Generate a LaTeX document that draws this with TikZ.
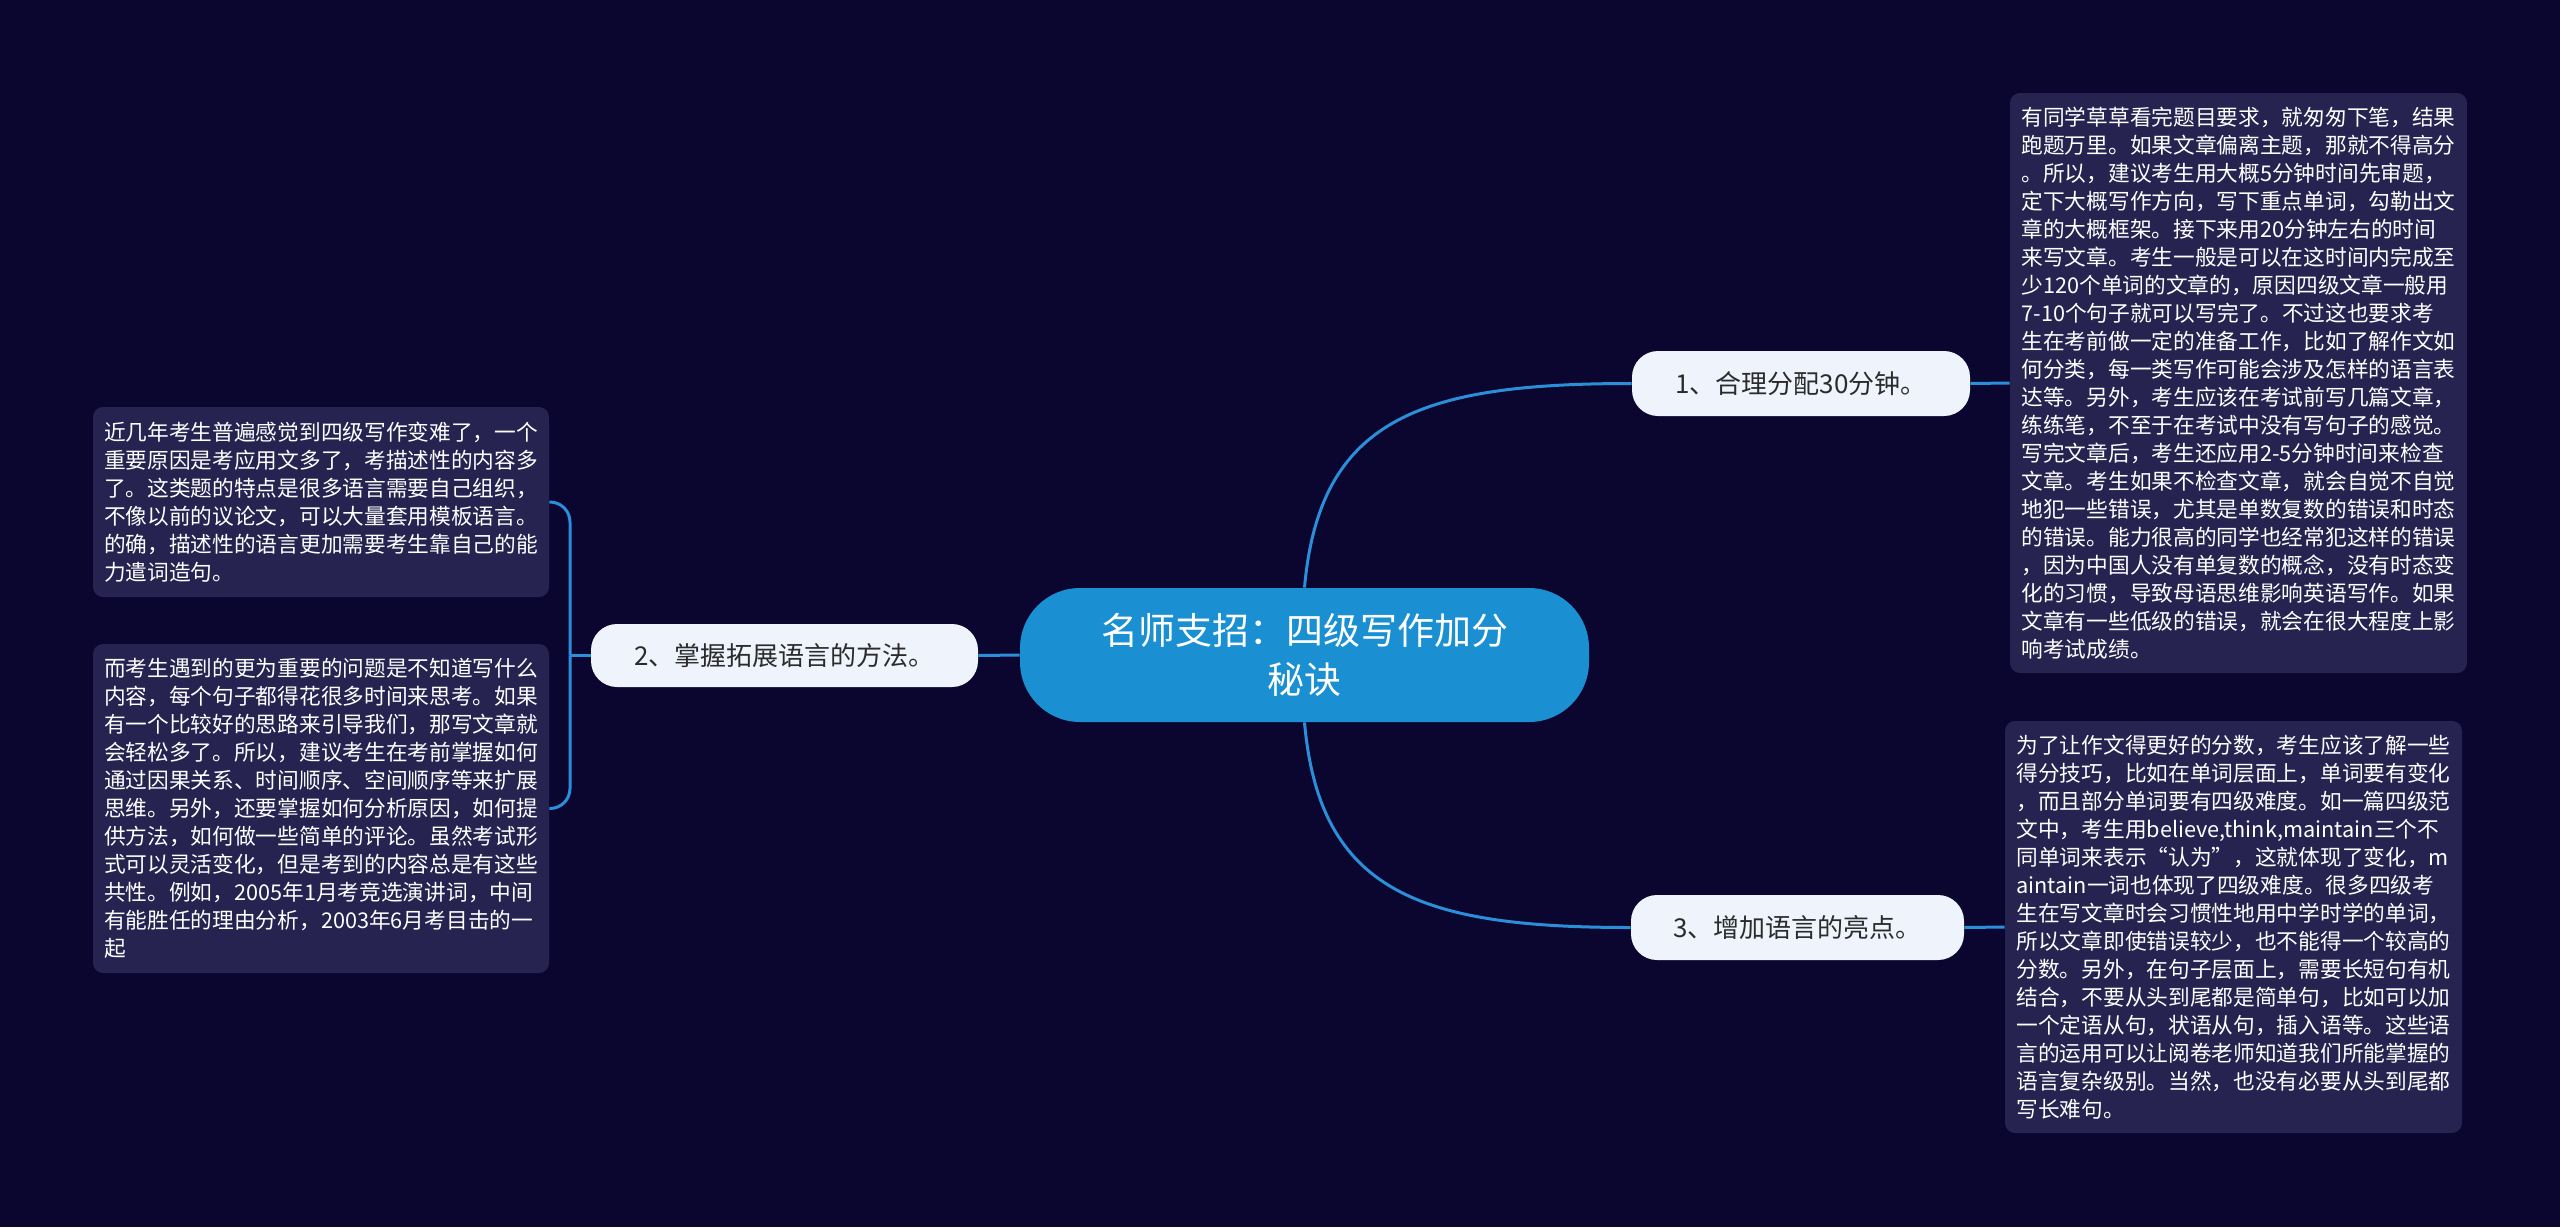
\documentclass[tikz,border=0pt]{standalone}
\usepackage{fontspec}
\setmainfont{Noto Sans CJK SC}
\definecolor{bgc}{HTML}{0A0630}
\definecolor{boxc}{HTML}{262351}
\definecolor{linec}{HTML}{2A8FD8}
\definecolor{rootc}{HTML}{1A90D2}
\definecolor{subc}{HTML}{EEF3FC}
\definecolor{subtext}{HTML}{2B2B2B}
\tikzset{
  rootnode/.style={fill=rootc, text=white, rounded corners=30pt, inner sep=0pt,
    minimum width=284.5pt, minimum height=67pt, align=center,
    font=\fontsize{18.5}{24.5}\selectfont},
  subnode/.style={fill=subc, text=subtext, rounded corners=13pt, inner sep=0pt,
    minimum height=32.5pt, font=\fontsize{13}{16}\selectfont},
  leafbox/.style={fill=boxc, text=white, rounded corners=5pt, inner sep=0pt,
    minimum width=228.5pt, align=left, font=\fontsize{10.85}{14}\selectfont},
  conn/.style={draw=linec, line width=1.5pt}
}
\begin{document}
\begin{tikzpicture}[x=0.5pt,y=-0.5pt]
\fill[bgc] (0,0) rectangle (2560,1227);
\useasboundingbox (0,0) rectangle (2560,1227);

\node[rootnode] (c) at (1304.5,655) {名师支招：四级写作加分\\秘诀};
\node[subnode, minimum width=169pt] (n1) at (1801,383.5) {1、合理分配30分钟。};
\node[subnode, minimum width=193.5pt, minimum height=31.5pt] (n2) at (784.5,655.5) {2、掌握拓展语言的方法。};
\node[subnode, minimum width=166.5pt] (n3) at (1797.5,927.5) {3、增加语言的亮点。};

\node[leafbox, minimum height=290pt] (rt) at (2238.5,383) {有同学草草看完题目要求，就匆匆下笔，结果\\
跑题万里。如果文章偏离主题，那就不得高分\\
。所以，建议考生用大概5分钟时间先审题，\\
定下大概写作方向，写下重点单词，勾勒出文\\
章的大概框架。接下来用20分钟左右的时间\\
来写文章。考生一般是可以在这时间内完成至\\
少120个单词的文章的，原因四级文章一般用\\
7-10个句子就可以写完了。不过这也要求考\\
生在考前做一定的准备工作，比如了解作文如\\
何分类，每一类写作可能会涉及怎样的语言表\\
达等。另外，考生应该在考试前写几篇文章，\\
练练笔，不至于在考试中没有写句子的感觉。\\
写完文章后，考生还应用2-5分钟时间来检查\\
文章。考生如果不检查文章，就会自觉不自觉\\
地犯一些错误，尤其是单数复数的错误和时态\\
的错误。能力很高的同学也经常犯这样的错误\\
，因为中国人没有单复数的概念，没有时态变\\
化的习惯，导致母语思维影响英语写作。如果\\
文章有一些低级的错误，就会在很大程度上影\\
响考试成绩。};

\node[leafbox, minimum height=206pt] (rb) at (2233.5,927) {为了让作文得更好的分数，考生应该了解一些\\
得分技巧，比如在单词层面上，单词要有变化\\
，而且部分单词要有四级难度。如一篇四级范\\
文中，考生用believe,think,maintain三个不\\
同单词来表示“认为”，这就体现了变化，m\\
aintain一词也体现了四级难度。很多四级考\\
生在写文章时会习惯性地用中学时学的单词，\\
所以文章即使错误较少，也不能得一个较高的\\
分数。另外，在句子层面上，需要长短句有机\\
结合，不要从头到尾都是简单句，比如可以加\\
一个定语从句，状语从句，插入语等。这些语\\
言的运用可以让阅卷老师知道我们所能掌握的\\
语言复杂级别。当然，也没有必要从头到尾都\\
写长难句。};

\node[leafbox, minimum width=228pt, minimum height=95pt] (lt) at (321,502) {近几年考生普遍感觉到四级写作变难了，一个\\
重要原因是考应用文多了，考描述性的内容多\\
了。这类题的特点是很多语言需要自己组织，\\
不像以前的议论文，可以大量套用模板语言。\\
的确，描述性的语言更加需要考生靠自己的能\\
力遣词造句。};

\node[leafbox, minimum width=228pt, minimum height=164.5pt] (lb) at (321,808.5) {而考生遇到的更为重要的问题是不知道写什么\\
内容，每个句子都得花很多时间来思考。如果\\
有一个比较好的思路来引导我们，那写文章就\\
会轻松多了。所以，建议考生在考前掌握如何\\
通过因果关系、时间顺序、空间顺序等来扩展\\
思维。另外，还要掌握如何分析原因，如何提\\
供方法，如何做一些简单的评论。虽然考试形\\
式可以灵活变化，但是考到的内容总是有这些\\
共性。例如，2005年1月考竞选演讲词，中间\\
有能胜任的理由分析，2003年6月考目击的一\\
起};

\coordinate (j) at (570,655.5);

\draw[conn] (c.north) .. controls +(15,-170) and +(-210,0) .. (n1.west);
\draw[conn] (c.south) .. controls +(15,170) and +(-210,0) .. (n3.west);
\draw[conn] (n2.east) -- (c.west);
\draw[conn] (n1.east) -- (rt.west);
\draw[conn] (n3.east) -- (rb.west);
\draw[conn] (n2.west) -- (j);
\draw[conn, rounded corners=10pt] (lt.east) -| (j);
\draw[conn, rounded corners=10pt] (lb.east) -| (j);
\end{tikzpicture}
\end{document}
